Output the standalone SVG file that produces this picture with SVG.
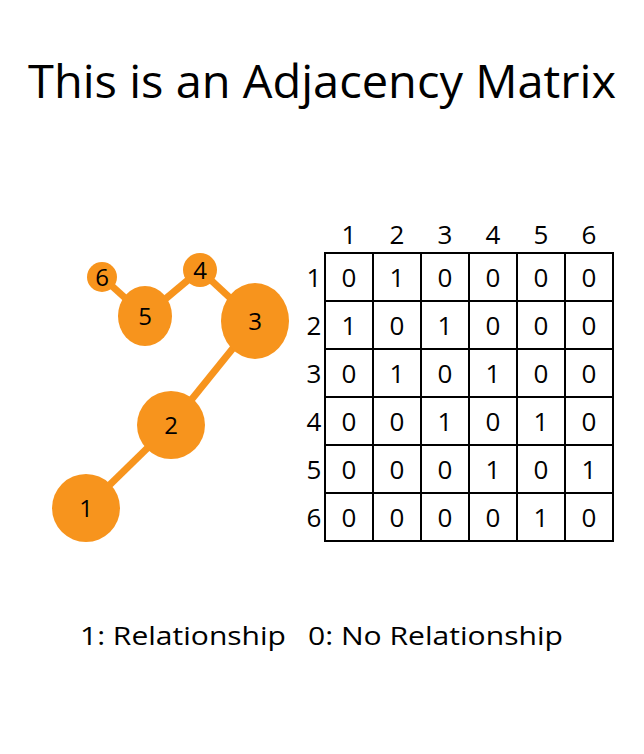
<svg xmlns="http://www.w3.org/2000/svg" width="644" height="754" viewBox="0 0 644 754">
<style>
text{font-family:"Open Sans","Liberation Sans",sans-serif;fill:#000}
.n{fill:#F7941D}
.e{stroke:#F7941D;stroke-width:7;fill:none}
.nl{font-size:24px;text-anchor:middle}
.m{font-size:26px;text-anchor:middle}
.g{stroke:#000;stroke-width:2;fill:none}
</style>
<rect width="644" height="754" fill="#fff"/>
<text x="322" y="98" font-size="46" text-anchor="middle" textLength="588" lengthAdjust="spacingAndGlyphs">This is an Adjacency Matrix</text>
<g id="connectors">
<line class="e" x1="86" y1="508" x2="171" y2="425"/>
<line class="e" x1="171" y1="425" x2="255" y2="321"/>
<line class="e" x1="255" y1="321" x2="200" y2="270"/>
<line class="e" x1="200" y1="270" x2="145" y2="316"/>
<line class="e" x1="145" y1="316" x2="102" y2="277"/>
</g>
<g id="node1"><circle class="n" cx="86" cy="508" r="34"/><text class="nl" x="86" y="517">1</text></g>
<g id="node2"><circle class="n" cx="171" cy="425" r="34"/><text class="nl" x="171" y="434">2</text></g>
<g id="node3"><ellipse class="n" cx="255" cy="321" rx="34" ry="38"/><text class="nl" x="255" y="330">3</text></g>
<g id="node4"><circle class="n" cx="200" cy="270" r="17"/><text class="nl" x="200" y="279">4</text></g>
<g id="node5"><ellipse class="n" cx="145" cy="316" rx="27" ry="30"/><text class="nl" x="145" y="325">5</text></g>
<g id="node6"><circle class="n" cx="102" cy="277" r="15"/><text class="nl" x="102" y="286">6</text></g>
<g id="matrix">
<rect class="g" x="325" y="253" width="288" height="288"/>
<path class="g" d="M373 253V541M421 253V541M469 253V541M517 253V541M565 253V541M325 301H613M325 349H613M325 397H613M325 445H613M325 493H613"/>
<g class="m">
<text x="349" y="244">1</text><text x="397" y="244">2</text><text x="445" y="244">3</text><text x="493" y="244">4</text><text x="541" y="244">5</text><text x="589" y="244">6</text>
<text x="314" y="287">1</text><text x="314" y="335">2</text><text x="314" y="383">3</text><text x="314" y="431">4</text><text x="314" y="479">5</text><text x="314" y="527">6</text>
<text x="349" y="287">0</text><text x="397" y="287">1</text><text x="445" y="287">0</text><text x="493" y="287">0</text><text x="541" y="287">0</text><text x="589" y="287">0</text>
<text x="349" y="335">1</text><text x="397" y="335">0</text><text x="445" y="335">1</text><text x="493" y="335">0</text><text x="541" y="335">0</text><text x="589" y="335">0</text>
<text x="349" y="383">0</text><text x="397" y="383">1</text><text x="445" y="383">0</text><text x="493" y="383">1</text><text x="541" y="383">0</text><text x="589" y="383">0</text>
<text x="349" y="431">0</text><text x="397" y="431">0</text><text x="445" y="431">1</text><text x="493" y="431">0</text><text x="541" y="431">1</text><text x="589" y="431">0</text>
<text x="349" y="479">0</text><text x="397" y="479">0</text><text x="445" y="479">0</text><text x="493" y="479">1</text><text x="541" y="479">0</text><text x="589" y="479">1</text>
<text x="349" y="527">0</text><text x="397" y="527">0</text><text x="445" y="527">0</text><text x="493" y="527">0</text><text x="541" y="527">1</text><text x="589" y="527">0</text>
</g>
</g>
<text x="80" y="645" font-size="26" textLength="206" lengthAdjust="spacingAndGlyphs">1: Relationship</text>
<text x="308" y="645" font-size="26" textLength="255" lengthAdjust="spacingAndGlyphs">0: No Relationship</text>
</svg>
